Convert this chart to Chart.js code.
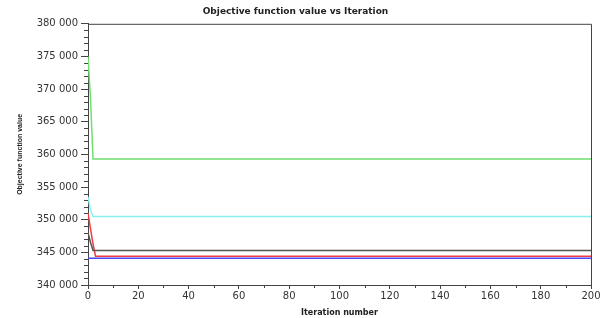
<!DOCTYPE html>
<html>
<head>
<meta charset="utf-8">
<script src="https://cdn.jsdelivr.net/npm/chart.js@4.4.0/dist/chart.umd.min.js"></script>
<style>
  html, body { margin: 0; padding: 0; background: #fff; }
  #wrap { width: 606px; height: 318px; }
</style>
</head>
<body>
<div id="wrap"><canvas id="myChart"></canvas></div>
<script>
  // iteration numbers where values were read
  const iterations = [0, 1, 2, 3, 200];

  const greenVals = [375000, 368500, 359300, 359300, 359300];
  const cyanVals  = [353500, 351500, 350500, 350500, 350500];
  const redVals   = [351000, 348600, 346300, 344400, 344400];
  const blackVals = [348000, 346500, 345300, 345300, 345300];
  const blueVals  = [344100, 344100, 344100, 344100, 344100];

  const yTicks = [340000, 345000, 350000, 355000, 360000, 365000, 370000, 375000, 380000];
  const xTicks = [0, 20, 40, 60, 80, 100, 120, 140, 160, 180, 200];

  const toPoints = (vals) => vals.map((v, i) => ({ x: iterations[i], y: v }));

  const fmt = (v) => {
    const s = String(Math.round(v));
    return s.slice(0, s.length - 3) + ' ' + s.slice(-3);
  };

  // box around plot + minor ticks
  const frame = {
    id: 'frame',
    afterDraw(chart) {
      const c = chart.ctx;
      const a = chart.chartArea;
      const xs = chart.scales.x, ys = chart.scales.y;
      c.save();
      c.strokeStyle = '#444';
      c.lineWidth = 1;
      c.beginPath();
      c.moveTo(a.left, a.top + 0.5);
      c.lineTo(a.right + 0.5, a.top + 0.5);
      c.lineTo(a.right + 0.5, a.bottom);
      c.stroke();
      c.beginPath();
      for (let v = ys.min; v <= ys.max; v += 1000) {
        if (v % 5000 === 0) continue;
        const py = Math.round(ys.getPixelForValue(v)) + 0.5;
        c.moveTo(a.left - 4, py);
        c.lineTo(a.left, py);
      }
      for (let v = xs.min + 10; v < xs.max; v += 20) {
        const px = Math.round(xs.getPixelForValue(v)) + 0.5;
        c.moveTo(px, a.bottom);
        c.lineTo(px, a.bottom + 3);
      }
      c.stroke();
      c.restore();
    }
  };

  const mk = (label, vals, color) => ({
    label: label,
    data: toPoints(vals),
    borderColor: color,
    backgroundColor: color,
    borderWidth: 1.5,
    pointRadius: 0,
    tension: 0
  });

  const ctx = document.getElementById('myChart');

  const myChart = new Chart(ctx, {
    type: 'line',
    data: {
      datasets: [
        mk('s1', greenVals, '#6ee06e'),
        mk('s2', cyanVals, '#86f0f0'),
        mk('s3', blackVals, '#555555'),
        mk('s4', redVals, '#f03c3c'),
        mk('s5', blueVals, '#4848ff')
      ]
    },
    options: {
      responsive: true,
      maintainAspectRatio: false,
      animation: false,
      layout: { padding: { left: 0, right: 15, top: 0, bottom: 0 } },
      plugins: {
        legend: { display: false },
        tooltip: { enabled: false },
        title: {
          display: true,
          text: 'Objective function value vs Iteration',
          color: '#222',
          font: { family: 'DejaVu Sans', size: 9, weight: 'bold' },
          padding: { top: 6, bottom: 7 }
        }
      },
      scales: {
        x: {
          type: 'linear',
          min: 0,
          max: 200,
          afterBuildTicks: (s) => { s.ticks = xTicks.map(v => ({ value: v })); },
          afterFit: (s) => { s.height = 33; },
          grid: { drawOnChartArea: false, drawTicks: true, tickLength: 4, tickColor: '#444' },
          border: { display: true, color: '#444', width: 1 },
          ticks: {
            color: '#333',
            padding: 1,
            maxRotation: 0,
            font: { family: 'DejaVu Sans', size: 10 }
          },
          title: {
            display: true,
            text: 'Iteration number',
            color: '#222',
            padding: { top: 1, bottom: 0 },
            font: { family: 'DejaVu Sans', size: 8, weight: 'bold' }
          }
        },
        y: {
          min: 340000,
          max: 380000,
          afterBuildTicks: (s) => { s.ticks = yTicks.map(v => ({ value: v })); },
          afterFit: (s) => { s.width = 88; },
          grid: { drawOnChartArea: false, drawTicks: true, tickLength: 7, tickColor: '#444' },
          border: { display: true, color: '#444', width: 1 },
          ticks: {
            color: '#333',
            padding: 3,
            font: { family: 'DejaVu Sans', size: 10 },
            callback: (v) => fmt(v)
          },
          title: {
            display: true,
            text: 'Objective function value',
            color: '#222',
            padding: { top: 16, bottom: 0 },
            font: { family: 'Liberation Sans', size: 7, weight: 'bold' }
          }
        }
      }
    },
    plugins: [frame]
  });
</script>
</body>
</html>
